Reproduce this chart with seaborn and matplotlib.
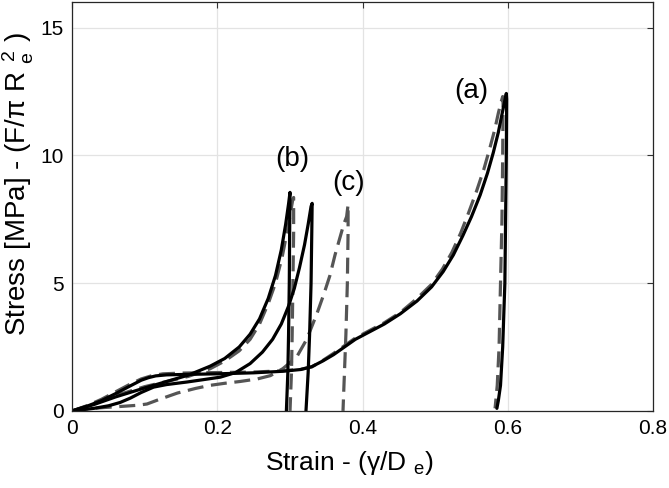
import numpy as np
import pandas as pd
import seaborn as sns
import matplotlib.pyplot as plt

sns.set_style("white")
plt.rcParams['font.family'] = ['Liberation Sans', 'DejaVu Sans']
plt.rcParams['mathtext.fontset'] = 'custom'
plt.rcParams['mathtext.rm'] = 'Liberation Sans'
plt.rcParams['mathtext.it'] = 'Liberation Sans:italic'

# solid curves (simulation)
a_x = [0, 0.02, 0.04, 0.06, 0.08, 0.095, 0.105, 0.115, 0.13, 0.16, 0.2, 0.25, 0.29, 0.315, 0.33,
       0.345, 0.36, 0.375, 0.39, 0.41, 0.43, 0.452, 0.475, 0.495, 0.511, 0.525, 0.538, 0.55,
       0.562, 0.572, 0.58, 0.587, 0.592, 0.596, 0.598,
       0.5985, 0.598, 0.596, 0.593, 0.590, 0.587, 0.585]
a_y = [0, 0.18, 0.4, 0.68, 0.98, 1.2, 1.3, 1.37, 1.41, 1.43, 1.45, 1.49, 1.55, 1.62, 1.73,
       1.95, 2.2, 2.5, 2.8, 3.1, 3.4, 3.8, 4.3, 4.85, 5.45, 6.1, 6.85, 7.6,
       8.45, 9.3, 10.1, 10.9, 11.6, 12.15, 12.42,
       12.2, 10.0, 5.0, 2.5, 1.0, 0.4, 0.1]

b_x = [0, 0.03, 0.06, 0.1, 0.13, 0.16, 0.19, 0.21, 0.23, 0.245, 0.258, 0.27, 0.28, 0.288, 0.294,
       0.298, 0.300, 0.2995, 0.299, 0.298, 0.297, 0.295]
b_y = [0, 0.25, 0.55, 0.9, 1.15, 1.4, 1.75, 2.05, 2.5, 3.0, 3.6, 4.4, 5.3, 6.3, 7.3,
       8.1, 8.55, 7.0, 5.0, 3.0, 1.5, 0.0]

c_x = [0, 0.03, 0.05, 0.066, 0.08, 0.095, 0.112, 0.13, 0.158, 0.18, 0.204, 0.225, 0.245, 0.262,
       0.276, 0.288, 0.298, 0.306, 0.313, 0.32, 0.325, 0.329, 0.3305,
       0.330, 0.329, 0.327, 0.325, 0.322]
c_y = [0, 0.1, 0.2, 0.33, 0.5, 0.72, 0.93, 1.03, 1.13, 1.22, 1.32, 1.5, 1.85, 2.3,
       2.8, 3.4, 4.1, 4.8, 5.6, 6.5, 7.3, 8.0, 8.12,
       7.0, 5.0, 3.0, 1.5, 0.0]

# dashed curves (experiment)
da_x = [0, 0.02, 0.04, 0.06, 0.08, 0.095, 0.11, 0.125, 0.15, 0.2, 0.25, 0.29, 0.315, 0.33,
        0.345, 0.36, 0.375, 0.39, 0.41, 0.43, 0.452, 0.475, 0.495, 0.51, 0.523, 0.535, 0.546,
        0.557, 0.567, 0.575, 0.582, 0.587, 0.591, 0.593,
        0.5935, 0.593, 0.592, 0.590, 0.588, 0.5855, 0.5825]
da_y = [0, 0.2, 0.45, 0.75, 1.05, 1.25, 1.38, 1.45, 1.48, 1.5, 1.52, 1.57, 1.63, 1.72,
        1.97, 2.25, 2.55, 2.85, 3.15, 3.45, 3.85, 4.4, 4.95, 5.55, 6.2, 6.95, 7.75,
        8.6, 9.45, 10.25, 11.0, 11.65, 12.1, 12.3,
        12.0, 10.0, 7.5, 5.0, 2.5, 1.0, 0.1]

db_x = [0, 0.03, 0.06, 0.1, 0.13, 0.16, 0.19, 0.21, 0.23, 0.245, 0.258, 0.27, 0.28, 0.289, 0.296,
        0.301, 0.304, 0.305, 0.305, 0.304, 0.303, 0.302, 0.300]
db_y = [0, 0.28, 0.6, 0.95, 1.15, 1.35, 1.65, 1.95, 2.35, 2.8, 3.4, 4.2, 5.0, 6.0, 7.0,
        7.8, 8.3, 8.35, 7.0, 5.0, 3.0, 1.5, 0.0]

dc_x = [0, 0.02, 0.043, 0.07, 0.09, 0.103, 0.12, 0.145, 0.17, 0.19, 0.21, 0.231, 0.255, 0.273,
        0.29, 0.309, 0.323, 0.337, 0.347, 0.355, 0.362, 0.369, 0.374, 0.378, 0.380,
        0.380, 0.379, 0.377, 0.375, 0.373]
dc_y = [0, 0.08, 0.13, 0.18, 0.22, 0.27, 0.45, 0.7, 0.88, 1.0, 1.08, 1.15, 1.25, 1.38,
        1.65, 2.1, 2.8, 3.8, 4.6, 5.3, 6.1, 6.8, 7.3, 7.6, 8.07,
        7.0, 5.0, 3.0, 1.5, 0.0]

solid = [(a_x, a_y), (b_x, b_y), (c_x, c_y)]
dashed = [(da_x, da_y), (db_x, db_y), (dc_x, dc_y)]

fig = plt.figure(figsize=(6.69, 4.88), dpi=100)
ax = fig.add_axes([0.108, 0.158, 0.868, 0.838])

for xs, ys in dashed:
    df = pd.DataFrame({"strain": xs, "stress": ys})
    sns.lineplot(data=df, x="strain", y="stress", sort=False, estimator=None,
                 color="#555555", lw=2.3, ax=ax, linestyle=(0, (5, 2.4)))
for xs, ys in solid:
    df = pd.DataFrame({"strain": xs, "stress": ys})
    sns.lineplot(data=df, x="strain", y="stress", sort=False, estimator=None,
                 color="black", lw=2.3, ax=ax)

ax.text(0.550, 12.5, "(a)", fontsize=20, ha="center", va="center", color="black")
ax.text(0.303, 9.85, "(b)", fontsize=20, ha="center", va="center", color="black")
ax.text(0.381, 8.93, "(c)", fontsize=20, ha="center", va="center", color="black")

ax.set_xlim(0, 0.8)
ax.set_ylim(0, 16)
ax.set_xticks([0, 0.2, 0.4, 0.6, 0.8])
ax.set_xticklabels(["0", "0.2", "0.4", "0.6", "0.8"])
ax.set_yticks([0, 5, 10, 15])
ax.grid(True, color="#e3e3e3", lw=0.9)
ax.tick_params(direction="in", top=True, right=True, labelsize=15, length=4,
               color="#333333", labelcolor="black", pad=6)
for s in ax.spines.values():
    s.set_color("#262626")
    s.set_linewidth(0.9)
ax.set_xlabel("Strain - (γ/D $_{\\rm e}$)", fontsize=19, color="black")
ax.set_ylabel("Stress [MPa] - (F/π R $_{\\rm e}^{\\,2}$ )", fontsize=20, color="black")
ax.xaxis.set_label_coords(0.477, -0.093)
ax.yaxis.set_label_coords(-0.062, 0.555)

fig.savefig("out.png", dpi=100)
